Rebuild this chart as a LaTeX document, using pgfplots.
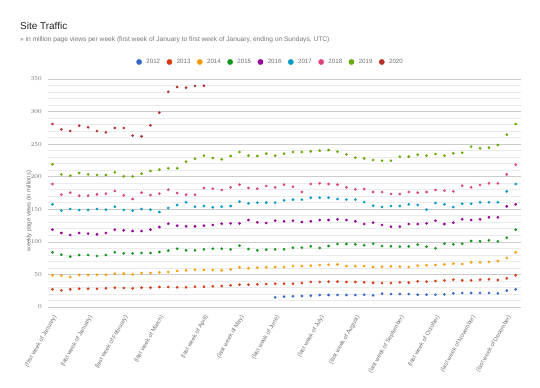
\documentclass[border=0pt]{standalone}
\usepackage{fontspec}
\setmainfont{Liberation Sans}
\usepackage{pgfplots}
\usepackage{pgfplotstable}
\pgfplotsset{compat=1.18}
\definecolor{c2012}{HTML}{3366CC}
\definecolor{c2013}{HTML}{DC3912}
\definecolor{c2014}{HTML}{FF9900}
\definecolor{c2015}{HTML}{109618}
\definecolor{c2016}{HTML}{990099}
\definecolor{c2017}{HTML}{0099C6}
\definecolor{c2018}{HTML}{DD4477}
\definecolor{c2019}{HTML}{66AA00}
\definecolor{c2020}{HTML}{B82E2E}
\definecolor{titlec}{HTML}{222222}
\definecolor{subc}{HTML}{757575}
\definecolor{tickc}{HTML}{707070}
\definecolor{majgrid}{HTML}{CCCCCC}
\definecolor{mingrid}{HTML}{EBEBEB}
\definecolor{basec}{HTML}{8A8A8A}

\pgfplotstableread{
w y2012 y2013 y2014 y2015 y2016 y2017 y2018 y2019 y2020
0 nan 27.1 48.6 83.9 118.7 157.6 188.8 219.0 280.9
1 nan 25.6 48.1 80.3 113.6 147.9 172.4 203.6 272.7
2 nan 27.1 46.1 77.3 110.5 150.4 175.5 201.6 270.2
3 nan 28.1 49.1 79.8 113.6 148.9 170.9 205.7 278.3
4 nan 28.1 49.1 79.8 112.6 148.9 170.9 203.6 275.8
5 nan 28.1 49.6 78.3 111.5 150.4 172.9 202.6 270.2
6 nan 28.7 49.6 79.8 113.6 149.4 174.0 202.6 268.1
7 nan 29.7 51.2 83.9 118.7 154.0 178.1 206.7 274.8
8 nan 29.2 51.2 82.4 117.7 148.9 171.4 200.6 274.8
9 nan 28.7 50.1 82.4 116.7 147.9 165.8 200.6 263.0
10 nan 29.7 52.2 82.9 116.7 150.4 175.5 204.7 262.0
11 nan 29.7 52.2 82.9 118.7 149.4 171.9 208.8 278.9
12 nan 30.7 53.2 84.4 122.8 145.8 174.0 210.8 298.3
13 nan 30.7 53.7 86.5 127.9 152.0 180.1 212.9 330.5
14 nan 30.2 55.3 89.5 124.8 156.6 175.0 212.9 337.7
15 nan 30.2 56.3 87.0 123.8 160.7 172.4 223.1 336.7
16 nan 31.2 57.3 87.0 123.8 154.0 172.4 227.7 339.2
17 nan 31.2 56.8 88.5 124.8 155.0 182.7 232.3 339.7
18 nan 31.7 56.8 89.5 125.9 153.0 181.6 228.7 nan
19 nan 32.2 56.3 89.5 127.9 154.0 179.6 226.7 nan
20 nan 33.3 57.8 88.5 128.4 155.0 183.7 231.8 nan
21 nan 34.3 60.9 94.1 128.4 161.7 187.8 237.9 nan
22 nan 34.3 59.4 89.0 133.5 159.1 182.7 232.3 nan
23 nan 34.8 60.4 87.0 130.0 160.2 181.6 231.8 nan
24 nan 35.3 60.9 88.0 128.9 160.2 185.7 235.4 nan
25 14.8 35.8 61.4 88.5 132.5 160.2 183.7 232.3 nan
26 15.9 35.8 61.4 88.5 131.5 163.7 187.8 235.4 nan
27 16.4 35.8 62.9 91.1 132.5 164.8 184.7 237.9 nan
28 16.9 36.8 62.9 91.1 130.5 164.8 176.5 237.9 nan
29 17.4 38.4 63.4 93.1 131.5 167.8 188.8 238.9 nan
30 18.4 38.4 64.5 90.6 133.5 167.8 189.8 240.0 nan
31 18.4 38.9 65.0 93.6 133.5 167.8 188.8 241.0 nan
32 18.4 38.9 65.5 96.7 134.6 165.8 187.8 238.4 nan
33 18.4 38.4 62.9 96.7 133.5 164.8 183.7 234.3 nan
34 18.4 38.4 62.9 96.2 131.5 164.8 180.6 229.2 nan
35 18.9 37.9 62.9 94.7 127.4 161.2 181.0 228.2 nan
36 17.9 37.2 61.4 97.2 129.5 155.5 176.5 225.6 nan
37 20.5 36.8 61.9 93.6 125.9 153.5 176.5 224.6 nan
38 20.0 36.8 62.4 93.1 123.3 155.0 173.5 224.6 nan
39 20.0 37.9 61.9 92.6 123.3 155.0 173.5 230.8 nan
40 20.0 37.4 61.4 93.1 127.4 157.6 176.5 230.8 nan
41 18.9 39.4 63.4 95.7 127.4 156.6 175.5 233.8 nan
42 18.9 38.9 64.0 92.6 128.4 149.4 176.5 232.3 nan
43 18.9 39.9 64.5 90.1 132.5 159.6 179.6 234.9 nan
44 19.4 40.9 65.5 97.2 127.4 157.6 178.6 232.3 nan
45 21.0 42.0 66.5 96.2 129.5 153.5 177.5 235.9 nan
46 21.5 40.9 66.0 97.2 134.6 158.6 186.2 236.9 nan
47 21.5 40.9 68.6 101.3 133.5 158.6 183.7 246.1 nan
48 21.5 42.0 68.6 100.8 134.6 160.7 187.3 243.6 nan
49 21.5 42.5 69.1 102.3 137.6 160.7 189.8 244.6 nan
50 21.0 41.4 70.6 100.8 137.6 160.7 189.8 248.7 nan
51 25.1 44.0 75.2 106.4 154.5 177.5 203.6 264.5 nan
52 27.1 48.6 83.9 118.7 157.6 188.8 218.5 280.9 nan
}\traffic

\begin{document}
\begin{tikzpicture}[x=1bp,y=1bp]
\path[use as bounding box] (0,0) rectangle (540,387);
\node[anchor=base west, inner sep=0pt, text=titlec, font=\fontsize{10}{12}\selectfont] at (20,357.6) {Site Traffic};
\node[anchor=base west, inner sep=0pt, text=subc, font=\fontsize{6.65}{8}\selectfont] at (20,346) {» in million page views per week (first week of January to first week of January, ending on Sundays, UTC)};
\begin{axis}[
  at={(48bp,80bp)}, anchor=south west,
  scale only axis, width=473bp, height=228bp,
  xmin=-0.5, xmax=52.6, ymin=0, ymax=350,
  axis line style={draw=none},
  major tick length=0pt, minor tick length=0pt,
  ytick={0,50,...,350},
  minor ytick={10,20,30,40,60,70,80,90,110,120,130,140,160,170,180,190,210,220,230,240,260,270,280,290,310,320,330,340},
  ymajorgrids, yminorgrids,
  major grid style={color=majgrid, line width=0.7bp},
  minor grid style={color=mingrid, line width=0.7bp},
  extra y ticks={0}, extra y tick labels={},
  extra y tick style={grid style={color=basec, line width=1.3bp}},
  xtick={0,4,8,12,17,21,25,30,34,39,43,47,51},
  xticklabels={(first week of January),(last week of January),(last week of February),(last week of March),(last week of April),(last week of May),(last week of June),(last week of July),(last week of August),(last week of September),(last week of October),(last week of November),(last week of December)},
  xticklabel style={xshift=3bp, yshift=-9bp, rotate=60, anchor=east, inner sep=0pt, font=\fontsize{5.9}{7}\selectfont, text=tickc},
  yticklabel style={anchor=east, inner sep=0pt, font=\fontsize{6.3}{7}\selectfont, text=tickc, xshift=-6bp},
  ylabel={weekly page views (in millions)},
  every axis y label/.style={at={(axis description cs:-0.0402,0.421)}, rotate=90, anchor=center, font=\fontsize{5.9}{7}\selectfont, text=tickc},
  legend columns=9,
  legend style={at={(axis description cs:0.469,1.0746)}, anchor=center, draw=none, fill=none,
    font=\fontsize{6.2}{7}\selectfont, text=tickc,
    nodes={inner sep=0.5bp},
    /tikz/every odd column/.style={column sep=4bp},
    /tikz/every even column/.style={column sep=6bp}},
  legend image code/.code={\fill[#1] (0bp,0bp) circle (2.6bp);},
  every axis plot/.append style={only marks, mark=*, mark size=1.15bp},
]
\addplot[color=c2012] table[x=w, y=y2012] {\traffic};
\addplot[color=c2013] table[x=w, y=y2013] {\traffic};
\addplot[color=c2014] table[x=w, y=y2014] {\traffic};
\addplot[color=c2015] table[x=w, y=y2015] {\traffic};
\addplot[color=c2016] table[x=w, y=y2016] {\traffic};
\addplot[color=c2017] table[x=w, y=y2017] {\traffic};
\addplot[color=c2018] table[x=w, y=y2018] {\traffic};
\addplot[color=c2019] table[x=w, y=y2019] {\traffic};
\addplot[color=c2020] table[x=w, y=y2020] {\traffic};
\legend{2012,2013,2014,2015,2016,2017,2018,2019,2020}
\end{axis}
\end{tikzpicture}
\end{document}
